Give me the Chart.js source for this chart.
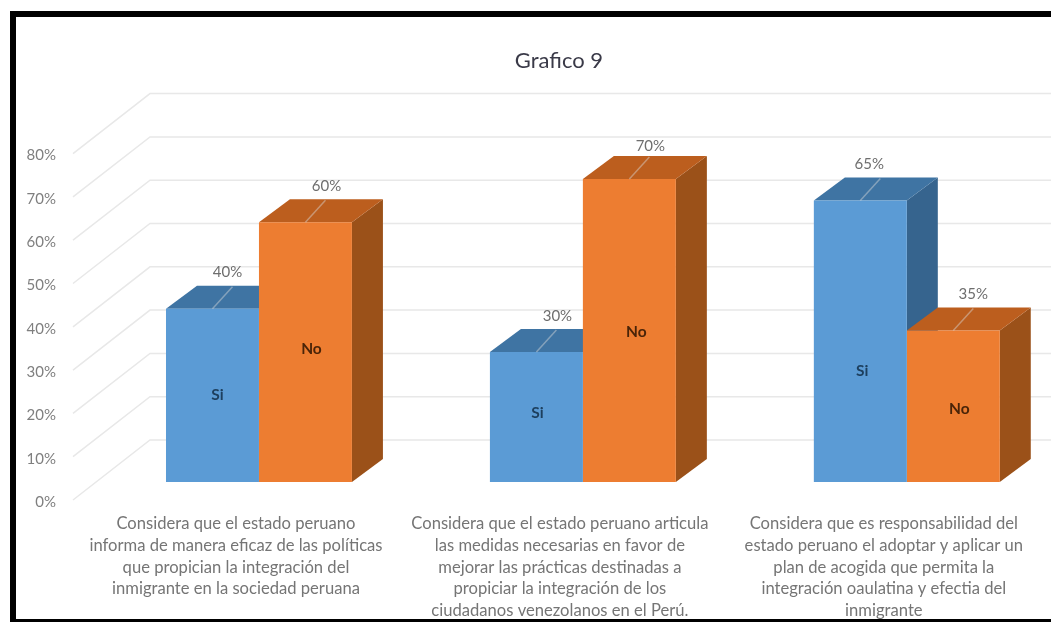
<!DOCTYPE html>
<html>
<head>
<meta charset="utf-8">
<style>
  html, body { margin: 0; padding: 0; background: #fff; overflow: hidden; width: 1051px; height: 624px; }
  #frame { position: absolute; left: 10px; top: 11px; width: 1100px; height: 611px; border: solid #000; border-width: 6px 0 3px 6px; box-sizing: border-box; }
  canvas { position: absolute; left: 0; top: 0; filter: blur(0.6px); }
</style>
</head>
<body>
<canvas id="grafico" width="1069" height="624"></canvas>
<div id="frame"></div>
<script src="https://cdn.jsdelivr.net/npm/chart.js@4"></script>
<script>
const titleText = "Grafico 9";
const categories = [
  ["Considera que el estado peruano", "informa de manera eficaz de las políticas", "que propician la integración del", "inmigrante en la sociedad peruana"],
  ["Considera que el estado peruano articula", "las medidas necesarias en favor de", "mejorar las prácticas destinadas a", "propiciar la integración de los", "ciudadanos venezolanos en el Perú."],
  ["Considera que es responsabilidad del", "estado peruano el adoptar y aplicar un", "plan de acogida que permita la", "integración oaulatina y efectia del", "inmigrante"]
];
const siValues = [40, 30, 65];
const noValues = [60, 70, 35];
const seriesNames = ["Si", "No"];

// how the 3d look is faked, all in pixels
const depth = { x: 31, y: -23 };
const wall = { x: 150, frontX: 73, back: -42, front: 18 };
const pctNudge = [[15, 21, 9], [21, 21, 20]];
const pctNudgeY = [[-37, -36, -36], [-36, -33, -36]];
const nameNudge = [[5, 1, 2], [6, 7, 6]];
const nameNudgeY = [[0, -4, 30], [-3, 2, 3]];

const faceColors = [
  { top: "#3F74A3", side: "#36648E" },
  { top: "#BC5E1E", side: "#9B5119" }
];

const poly = (ctx, pts, color) => {
  ctx.fillStyle = color;
  ctx.beginPath();
  pts.forEach((p, i) => i ? ctx.lineTo(p[0], p[1]) : ctx.moveTo(p[0], p[1]));
  ctx.closePath();
  ctx.fill();
};

const fake3d = {
  id: "fake3d",
  afterLayout(chart) {
    // title sits off centre in the original
    chart.titleBlock.left = 459;
    chart.titleBlock.right = 659;
  },
  beforeDatasetsDraw(chart) {
    const { ctx, scales: { y }, chartArea } = chart;
    ctx.save();
    // back wall and floor grid
    ctx.strokeStyle = "#E8E8E8";
    ctx.lineWidth = 1.5;
    y.ticks.forEach(t => {
      const py = y.getPixelForValue(t.value);
      ctx.beginPath();
      ctx.moveTo(wall.frontX, py + wall.front);
      ctx.lineTo(wall.x, py + wall.back);
      ctx.lineTo(chartArea.right, py + wall.back);
      ctx.stroke();
    });
    // side and top faces, Si first so No sits over it
    chart.data.datasets.forEach((ds, d) => {
      chart.getDatasetMeta(d).data.forEach(bar => {
        const l = bar.x - bar.width / 2, r = bar.x + bar.width / 2;
        const t = bar.y, b = bar.base;
        poly(ctx, [[r, t], [r + depth.x, t + depth.y], [r + depth.x, b + depth.y], [r, b]], faceColors[d].side);
        poly(ctx, [[l, t], [l + depth.x, t + depth.y], [r + depth.x, t + depth.y], [r, t]], faceColors[d].top);
      });
    });
    ctx.restore();
  },
  afterDatasetsDraw(chart) {
    const { ctx, scales: { y } } = chart;
    ctx.save();
    ctx.textAlign = "center";
    ctx.textBaseline = "middle";
    chart.data.datasets.forEach((ds, d) => {
      chart.getDatasetMeta(d).data.forEach((bar, i) => {
        // leader line over the top face
        ctx.strokeStyle = "rgba(217,217,217,0.45)";
        ctx.lineWidth = 1.5;
        ctx.beginPath();
        ctx.moveTo(bar.x, bar.y);
        ctx.lineTo(bar.x + 20, bar.y - 22);
        ctx.stroke();

        ctx.font = "15px Lato";
        ctx.fillStyle = "#6E6E6E";
        ctx.fillText(ds.data[i] + "%", bar.x + pctNudge[d][i], bar.y + pctNudgeY[d][i]);

        ctx.font = "bold 15.5px Lato";
        ctx.fillStyle = d === 0 ? "#1D3F5E" : "#4A2408";
        const mid = y.getPixelForValue(ds.data[i] / 2);
        ctx.fillText(ds.label, bar.x + nameNudge[d][i], mid + nameNudgeY[d][i]);
      });
    });
    ctx.restore();
  }
};

new Chart(document.getElementById("grafico"), {
  type: "bar",
  plugins: [fake3d],
  data: {
    labels: categories,
    datasets: [
      { label: seriesNames[0], data: siValues, backgroundColor: "#5B9BD5", barPercentage: 1, categoryPercentage: 0.574 },
      { label: seriesNames[1], data: noValues, backgroundColor: "#ED7D31", barPercentage: 1, categoryPercentage: 0.574 }
    ]
  },
  options: {
    responsive: false,
    animation: false,
    layout: { padding: 0 },
    plugins: {
      legend: { display: false },
      tooltip: { enabled: false },
      title: {
        display: true,
        text: titleText,
        color: "#3A3A48",
        font: { family: "Lato", size: 22, weight: "normal", lineHeight: 1.2 },
        padding: { top: 48, bottom: 61.2 }
      }
    },
    scales: {
      x: {
        afterFit(scale) { scale.height = 142; },
        grid: { display: false },
        border: { display: false },
        ticks: {
          autoSkip: false,
          maxRotation: 0,
          padding: 23,
          labelOffset: -23,
          color: "#757575",
          font: { family: "Lato", size: 16.6, lineHeight: 1.31 }
        }
      },
      y: {
        min: 0,
        max: 80,
        afterFit(scale) { scale.width = 97; },
        grid: { display: false },
        border: { display: false },
        ticks: {
          stepSize: 10,
          padding: 33,
          labelOffset: 20,
          color: "#7F7F7F",
          font: { family: "Lato", size: 15 },
          callback: v => v + "%"
        }
      }
    }
  }
});
</script>
</body>
</html>
